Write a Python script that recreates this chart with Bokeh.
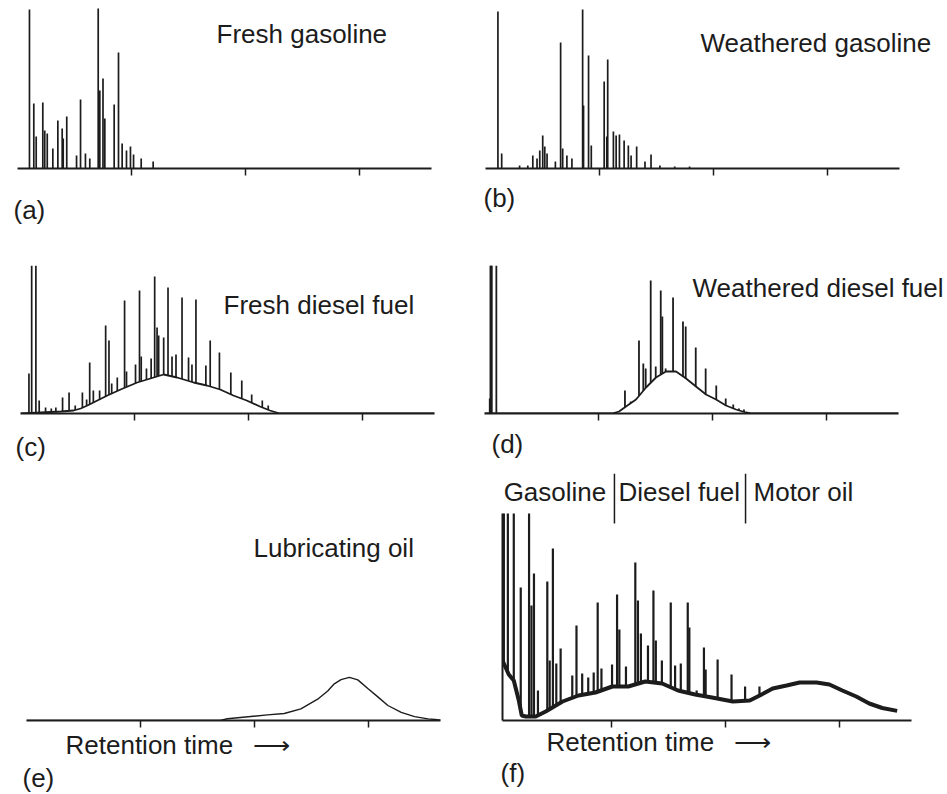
import numpy as np
from bokeh.plotting import figure
from bokeh.layouts import column, row
from bokeh.models import Range1d, FixedTicker, Label, Title
from bokeh.embed import file_html
from bokeh.resources import INLINE

# ---------------- data (retention time units; response units) ----------------
tick_positions = [10, 20, 30]

# (a) fresh gasoline
a_peak_x = [1.05, 1.43, 1.64, 2.22, 2.39, 2.61, 3.10, 3.54, 3.92, 4.01, 4.32, 5.18, 5.53, 5.96,
            6.34, 7.08, 7.22, 7.50, 7.66, 8.48, 8.86, 9.18, 9.56, 9.91, 10.18, 10.85, 11.90]
a_peak_h = [159, 65, 32, 66, 38, 35, 20, 48, 40, 30, 52, 13, 69, 15,
            10, 160, 78, 90, 50, 64, 116, 25, 18, 22, 14, 10, 7]

# (b) weathered gasoline
b_peak_x = [1.09, 1.42, 2.99, 3.71, 4.15, 4.52, 4.76, 5.02, 5.20, 5.40, 6.13, 6.59, 6.77, 7.14,
            7.58, 8.52, 8.60, 9.04, 9.28, 10.41, 10.64, 10.72, 11.22, 11.46, 11.75, 12.16, 12.53,
            12.77, 13.26, 13.99, 14.52, 15.3, 16.6, 17.9]
b_peak_h = [157, 15, 3, 3, 13, 10, 18, 33, 22, 15, 7, 126, 20, 13,
            10, 159, 63, 113, 23, 87, 32, 109, 37, 33, 34, 28, 23,
            13, 22, 7, 14, 3, 2, 2]

# (c) fresh diesel fuel
c_hump_x = [0, 3.54, 4.67, 5.28, 5.87, 7.62, 8.78, 10.24, 11.69, 12.56, 13.73, 15.18, 16.35,
            17.51, 18.67, 19.84, 21.0, 21.88, 22.75, 36.3]
c_hump_y = [0, 2, 3, 5, 8, 18, 24, 31, 36, 39, 36, 31, 28, 24, 18, 13, 7, 3, 0, 0]
c_peak_x = [0.74, 0.98, 1.35, 1.64, 2.2, 2.7, 3.1, 3.69, 4.26, 4.8, 5.43, 5.8, 6.07, 6.39, 6.94,
            7.47, 7.76, 8.0, 8.49, 9.13, 9.30, 10.09, 10.44, 10.59, 11.05, 11.46, 11.77, 11.98,
            12.12, 12.56, 12.94, 13.29, 13.64, 14.17, 14.74, 15.04, 15.39, 16.26, 16.64, 17.45,
            18.45, 19.41, 20.28, 21.21, 21.73]
c_peak_h = [40, 148, 148, 13, 6, 5, 6, 16, 21, 8, 21, 14, 51, 23, 23,
            88, 73, 30, 36, 113, 42, 49, 123, 57, 45, 55, 137, 86,
            78, 76, 126, 57, 59, 116, 56, 49, 114, 48, 73, 61,
            41, 33, 19, 13, 8]

# (d) weathered diesel fuel
d_hump_x = [0, 11.18, 11.80, 12.41, 13.29, 14.17, 15.04, 15.92, 16.80, 17.68, 18.55, 19.43,
            20.31, 21.18, 22.06, 22.94, 23.38, 36.3]
d_hump_y = [0, 0, 2, 7, 14, 26, 36, 42, 42, 35, 27, 19, 14, 8, 4, 1, 0, 0]
d_peak_x = [0.46, 0.52, 0.57, 0.64, 1.04, 12.32, 12.82, 13.55, 13.93, 14.14, 14.58, 15.02,
            15.46, 15.60, 15.89, 16.54, 17.41, 17.65, 18.53, 19.40, 20.33, 21.16, 21.82,
            22.32, 22.76]
d_peak_h = [15, 148, 148, 148, 148, 23, 12, 73, 50, 45, 133, 47,
            123, 97, 45, 116, 92, 87, 66, 45, 28, 15, 9,
            5, 4]

# (e) lubricating oil
e_hump_x = [0, 17.0, 17.62, 21.14, 22.61, 24.07, 25.54, 26.42, 27.0, 27.59, 28.32, 29.06, 29.94,
            30.82, 31.70, 32.87, 34.04, 35.22, 36.09, 36.3]
e_hump_y = [0, 0, 1.7, 5.6, 7, 11.6, 21.3, 29.5, 36.7, 40.9, 43.1, 40.6, 32,
            23.6, 15, 8.1, 3.9, 1.6, 0.7, 0.5]

# (f) mixture: gasoline | diesel fuel | motor oil
f_hump_x = [0.45, 1.0, 1.44, 1.88, 2.14, 2.49, 3.36, 4.24, 5.72, 7.12, 8.60, 10.09, 11.48,
            12.97, 14.45, 15.85, 17.34, 18.82, 20.66, 22.14, 23.01, 24.15, 25.37, 26.51,
            27.99, 29.13, 30.26, 31.48, 32.62, 33.76, 35.07]
f_hump_y = [60, 46, 40, 20, 5, 4, 4, 9, 19, 25, 28, 34, 34,
            39, 37, 30, 26, 23, 19, 20, 25, 32, 35, 38,
            38, 36, 30, 24, 17, 12.5, 9.6]
f_peak_x = [0.57, 0.92, 1.44, 2.05, 2.78, 2.99, 3.21, 3.56, 4.38, 4.59, 4.87, 5.17, 5.55, 6.57,
            6.94, 7.44, 7.97, 8.45, 8.80, 9.13, 10.06, 10.50, 10.70, 11.28, 12.10, 12.33, 12.59,
            13.21, 13.69, 13.90, 14.43, 15.21, 15.59, 16.09, 16.70, 16.84, 17.48, 18.12, 18.27,
            19.32, 20.54, 21.73, 22.99]
f_peak_h = [207, 207, 207, 133, 207, 115, 147, 30, 139, 60, 172, 57, 72, 45,
            95, 47, 43, 48, 118, 52, 56, 126, 91, 54, 158, 120, 87,
            75, 130, 80, 60, 118, 55, 57, 118, 93, 30, 73, 51,
            61, 46, 34, 34]
f_axis_top = 207
f_region_names = ["Gasoline", "Diesel fuel", "Motor oil"]
f_region_bounds = [10.27, 21.77]

panel_titles = ["Fresh gasoline", "Weathered gasoline", "Fresh diesel fuel",
                "Weathered diesel fuel", "Lubricating oil"]
panel_tags = ["(a)", "(b)", "(c)", "(d)", "(e)", "(f)"]
x_label = "Retention time \u2002\u27f6"

# ---------------- styling ----------------
INK = "#1c1c1c"
FONT = "Liberation Sans"
FS = "26px"
X_END = 36.3
PPU = 11.4  # pixels per retention-time unit


def make_panel(w, h, bl, bt, bb, y_end, x_start=0.0, yaxis=False):
    x_end = x_start + (w - bl) / PPU
    p = figure(width=w, height=h, x_range=Range1d(x_start, x_end), y_range=Range1d(0, y_end),
               output_backend="svg", toolbar_location=None, tools="",
               y_axis_location="left" if yaxis else None,
               min_border_left=bl, min_border_right=0, min_border_top=bt, min_border_bottom=bb)
    p.outline_line_color = None
    p.background_fill_color = "white"
    p.border_fill_color = "white"
    p.xgrid.visible = False
    p.ygrid.visible = False
    ax = p.xaxis[0]
    ax.ticker = FixedTicker(ticks=tick_positions, minor_ticks=[])
    ax.bounds = (x_start, X_END)
    ax.major_label_overrides = {t: "" for t in tick_positions}
    ax.major_label_text_color = None
    ax.major_label_text_font_size = "1px"
    ax.major_label_standoff = 0
    ax.major_tick_in = 0
    ax.major_tick_out = 7
    ax.minor_tick_in = 0
    ax.minor_tick_out = 0
    ax.axis_line_width = 2
    ax.axis_line_color = INK
    ax.major_tick_line_color = INK
    ax.major_tick_line_width = 1.5
    if yaxis:
        ya = p.yaxis[0]
        ya.ticker = FixedTicker(ticks=[], minor_ticks=[])
        ya.major_label_text_color = None
        ya.major_label_text_font_size = "1px"
        ya.major_label_standoff = 0
        ya.major_tick_in = 0
        ya.major_tick_out = 0
        ya.minor_tick_in = 0
        ya.minor_tick_out = 0
        ya.axis_line_width = 2
        ya.axis_line_color = INK
        ya.bounds = (0, f_axis_top)
    return p


def draw(p, peak_x, peak_h, hump_x=None, hump_y=None, hump_w=1.4, peak_w=1.7):
    if hump_x is not None:
        p.line(hump_x, hump_y, line_color=INK, line_width=hump_w)
        base = np.interp(peak_x, hump_x, hump_y)
    else:
        base = np.zeros(len(peak_x))
    p.segment(x0=peak_x, y0=base, x1=peak_x, y1=peak_h, line_color=INK, line_width=peak_w)


def label(p, x, y, text):
    p.add_layout(Label(x=x, y=y, text=text, text_font=FONT, text_font_size=FS,
                       text_color=INK, text_baseline="middle", text_align="left"))


def below(p, text, offset, standoff):
    p.add_layout(Title(text=text, align="left", offset=offset, standoff=standoff,
                       text_font=FONT, text_font_size=FS, text_font_style="normal",
                       text_color=INK), "below")


# row 1: frames 5..168, row height 244
pa = make_panel(470, 244, 17, 5, 76, 163)
draw(pa, a_peak_x, a_peak_h)
label(pa, 17.46, 134.5, panel_titles[0])
below(pa, panel_tags[0], -4, 35)

pb = make_panel(477, 244, 15, 5, 76, 163)
draw(pb, b_peak_x, b_peak_h)
label(pb, 18.86, 125.5, panel_titles[1])
below(pb, panel_tags[1], -2, 11)

# row 2: frames 265..413, row height 229
pc = make_panel(470, 229, 20, 21, 60, 148)
draw(pc, c_peak_x, c_peak_h, c_hump_x, c_hump_y, hump_w=1.8)
label(pc, 17.81, 108.5, panel_titles[2])
below(pc, panel_tags[2], -5, 19)

pd_ = make_panel(477, 229, 14, 21, 60, 148)
draw(pd_, d_peak_x, d_peak_h, d_hump_x, d_hump_y, hump_w=1.8, peak_w=1.8)
label(pd_, 18.25, 125.5, panel_titles[3])
below(pd_, panel_tags[3], 7, 13)

# row 3: frames 473..720, row height 320
pe = make_panel(470, 320, 26, 0, 73, 247)
pe.line(e_hump_x, e_hump_y, line_color=INK, line_width=1.4)
label(pe, 19.91, 172.5, panel_titles[4])
below(pe, x_label, 39, 1)
below(pe, panel_tags[4], -4, 0)

pf = make_panel(477, 320, 32, 0, 73, 247, x_start=0.45, yaxis=True)
draw(pf, f_peak_x, f_peak_h, f_hump_x, f_hump_y, hump_w=4, peak_w=2.2)
pf.segment(x0=f_region_bounds, y0=[197] * 2, x1=f_region_bounds, y1=[247] * 2,
           line_color=INK, line_width=1.5)
label(pf, 0.55, 229, f_region_names[0])
label(pf, f_region_bounds[0] + 0.36, 229, f_region_names[1])
label(pf, f_region_bounds[1] + 0.70, 229, f_region_names[2])
below(pf, x_label, 44, -6)
below(pf, panel_tags[5], -2, 4)

layout = column(row(pa, pb), row(pc, pd_), row(pe, pf))
open("out.html", "w").write(file_html(layout, INLINE))
